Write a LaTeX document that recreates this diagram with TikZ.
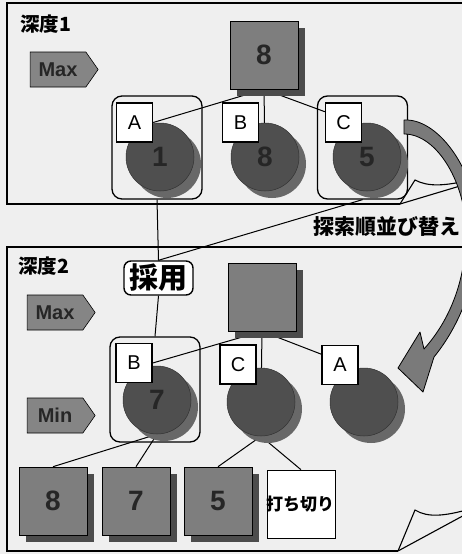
\documentclass[tikz,border=0pt]{standalone}
\usepackage{fontspec}
\setmainfont{Liberation Sans}
\newfontfamily\jp{Noto Sans CJK JP}
\usetikzlibrary{shapes.symbols,shadows}
\definecolor{bgc}{HTML}{EFEFEF}
\definecolor{sqgray}{HTML}{7E7E7E}
\definecolor{sqshadow}{HTML}{4C4C4C}
\definecolor{circgray}{HTML}{4F4F4F}
\definecolor{circshadow}{HTML}{686868}
\definecolor{pentgray}{HTML}{858585}
\definecolor{numdark}{HTML}{262626}
\definecolor{bandgray}{HTML}{7A7A7A}
\pgfdeclarelayer{bglayer}
\pgfdeclarelayer{edgelayer}
\pgfsetlayers{bglayer,edgelayer,main}
\tikzset{
  frame/.style={line width=1.1pt},
  sqbox/.style={draw, line width=0.6pt, fill=sqgray, minimum size=68pt, inner sep=0pt,
    font=\bfseries\fontsize{28}{28}\selectfont, text=numdark,
    drop shadow={fill=sqshadow, opacity=1, shadow xshift=7pt, shadow yshift=-7pt}},
  cutbox/.style={draw, line width=0.6pt, fill=white, minimum size=68pt, inner sep=0pt,
    font=\jp\bfseries\fontsize{17}{17}\selectfont},
  circ/.style={circle, draw=black!80, line width=0.5pt, fill=circgray, minimum size=68pt, inner sep=0pt,
    font=\bfseries\fontsize{28}{28}\selectfont, text=numdark,
    drop shadow={fill=circshadow, opacity=1, shadow xshift=7pt, shadow yshift=-7pt}},
  lbl/.style={draw, line width=1.4pt, fill=white, minimum width=36pt, minimum height=39pt, inner sep=0pt,
    font=\fontsize{20}{20}\selectfont},
  grp/.style={draw, line width=1.3pt, rounded corners=10pt, minimum width=90pt, inner sep=0pt},
  conn/.style={line width=1pt},
  pent/.style={signal, signal to=east, signal pointer angle=110, draw, line width=0.6pt, fill=pentgray,
    minimum width=68pt, minimum height=35pt, inner sep=0pt,
    font=\bfseries\fontsize{20}{20}\selectfont, text=numdark},
  depth/.style={anchor=west, inner sep=0pt, font=\jp\bfseries\fontsize{19.5}{19.5}\selectfont},
  saiyobox/.style={draw, line width=1.4pt, fill=white, rounded corners=7pt, minimum width=69pt,
    minimum height=34pt, inner sep=0pt, font=\jp\bfseries\fontsize{29}{29}\selectfont},
  band/.style={draw, line width=0.8pt, fill=bandgray, line join=round},
  curl/.style={line width=1.1pt}
}
\begin{document}
\begin{tikzpicture}[x=1pt,y=-1pt]
\useasboundingbox (0,0) rectangle (462,554);
\clip (0,0) rectangle (462,554);
\begin{pgfonlayer}{bglayer}
  \fill[bgc] (0,0) rectangle (462,554);
  \draw[frame] (400,204) -- (7,204) -- (7,3) -- (470,3);
  \draw[frame] (398,551) -- (7,551) -- (7,247) -- (470,247);
\end{pgfonlayer}
% page curls
\draw[curl] (400,204) -- (415,180) .. controls (428,187) and (445,186) .. (470,180);
\draw[curl] (400,204) -- (470,183);
\draw[curl] (398,551) -- (415,510) .. controls (428,518) and (445,516) .. (470,509);
\draw[curl] (398,551) -- (470,512);

% depth 1
\node[depth] (d1) at (20,24) {深度1};
\node[pent] (max1) at (58,69.5) {Max};
\node[grp, minimum height=103pt] (gA) at (157,147.5) {};
\node[grp, minimum height=103pt] (gC) at (362.5,147.5) {};
\node[sqbox] (sq1) at (264,55) {8};
\node[circ] (c1) at (160,157) {1};
\node[circ] (c8) at (265,157) {8};
\node[circ] (c5) at (367,157) {5};
\node[lbl] (lA) at (134.5,122.5) {A};
\node[lbl] (lB) at (240.5,122.5) {B};
\node[lbl] (lC) at (343.5,122.5) {C};

\node[inner sep=0pt, font=\jp\bfseries\fontsize{21}{21}\selectfont] (sort) at (387,227) {探索順並び替え};

% depth 2
\node[depth] (d2) at (18,266) {深度2};
\node[saiyobox] (saiyo) at (158.5,278) {採用};
\node[pent] (max2) at (55,312.5) {Max};
\node[pent] (min2) at (55,415.5) {Min};
\node[grp, minimum height=105pt] (gB2) at (155,389.5) {};
\node[sqbox] (sq2) at (262,297) {};
\node[circ] (c7) at (157,400) {7};
\node[circ] (cC2) at (261,402) {};
\node[circ] (cA2) at (364,402) {};
\node[lbl] (lB2) at (134,363) {B};
\node[lbl] (lC2) at (238,364.5) {C};
\node[lbl] (lA2) at (340,365) {A};

\node[sqbox] (l8) at (53,501) {8};
\node[sqbox] (l7) at (136,501) {7};
\node[sqbox] (l5) at (218,501) {5};
\node[cutbox] (lcut) at (301,504) {\hspace*{-2pt}打ち切り};

\begin{pgfonlayer}{edgelayer}
  \draw[conn] (sq1.south) -- (lA.east);
  \draw[conn] (sq1.south) -- (c8.center);
  \draw[conn] (sq1.south) -- (lC.150);
  \draw[conn] (gA.south) -- (saiyo.north);
  \draw[conn] (gC.south) -- (saiyo.north);
  \draw[conn] (saiyo.south) -- (gB2.north);
  \draw[conn] (sq2.south) -- (lB2.east);
  \draw[conn] (sq2.south) -- (cC2.center);
  \draw[conn] (sq2.south) -- (lA2.150);
  \draw[conn] (c7.south) -- (l8.north);
  \draw[conn] (c7.south) -- (l7.north);
  \draw[conn] (cC2.south) -- (l5.north);
  \draw[conn] (cC2.south) -- (lcut.north);
\end{pgfonlayer}

% curved reorder arrow
\draw[band] (404,120) .. controls (440,118) and (478,175) .. (478,230)
  .. controls (478,280) and (460,325) .. (434,357)
  -- (423,392) -- (398,368) -- (420,332) -- (424,349)
  .. controls (450,320) and (466,280) .. (466,232)
  .. controls (466,185) and (438,134) .. (404,134) -- cycle;
\end{tikzpicture}
\end{document}
